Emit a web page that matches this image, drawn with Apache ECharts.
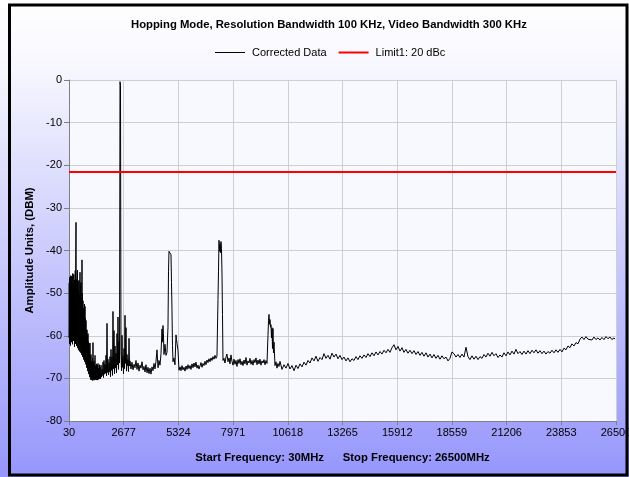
<!DOCTYPE html>
<html>
<head>
<meta charset="utf-8">
<title>Hopping Mode Spurious Emissions</title>
<script src="https://cdn.jsdelivr.net/npm/echarts@6/dist/echarts.min.js"></script>
<style>
  html, body { margin: 0; padding: 0; background: #ffffff; }
  #chart { width: 629px; height: 477px; }
</style>
</head>
<body>
<div id="chart"></div>
<script>
// Sweep settings (MHz)
const startFreq = 30;
const stopFreq = 26500;
const freqStep = 2647;

// Amplitude axis (dBm)
const ampMin = -80;
const ampMax = 0;
const ampStep = 10;

// Limit line level (dBm)
const limitLevel = -21.6;

const titleText = 'Hopping Mode, Resolution Bandwidth 100 KHz, Video Bandwidth 300 KHz';
const traceName = 'Corrected Data';
const limitName = 'Limit1: 20 dBc';
const yAxisTitle = 'Amplitude Units, (DBM)';
const xAxisTitle = 'Start Frequency: 30MHz      Stop Frequency: 26500MHz';

// Sweep trace as flat [MHz, dBm, MHz, dBm, ...] lists, split by band
const lowBandSweep = [
  30,-60.5, 42,-47.6, 54,-61.9, 66,-46.3, 78,-59.8, 90,-48.9, 103,-62.3, 115,-45.9,
  127,-60.7, 139,-47.1, 151,-61.5, 163,-46.0, 175,-59.2, 187,-48.4, 199,-62.0, 211,-45.4,
  224,-60.3, 236,-47.8, 248,-61.2, 260,-45.6, 272,-59.5, 284,-49.0, 296,-62.6, 308,-46.9,
  320,-60.8, 333,-44.7, 345,-61.9, 357,-41.0, 369,-33.4, 381,-55.2, 393,-62.4, 405,-46.8,
  417,-61.3, 429,-48.6, 441,-44.6, 454,-62.9, 466,-47.2, 478,-61.0, 490,-49.3, 502,-63.4,
  514,-47.0, 526,-61.8, 538,-50.5, 550,-63.7, 562,-45.1, 575,-62.2, 586,-48.3, 599,-64.0,
  611,-47.5, 623,-63.1, 635,-51.2, 647,-64.5, 659,-42.2, 671,-63.6, 683,-50.1, 696,-65.0,
  707,-51.8, 720,-64.2, 732,-53.5, 744,-65.6, 756,-54.2, 768,-64.8, 780,-52.6, 792,-66.1,
  804,-53.1, 816,-65.4, 828,-56.0, 841,-66.7, 853,-56.4, 865,-65.9, 877,-58.8, 889,-67.5,
  901,-58.6, 913,-66.8, 925,-60.2, 937,-68.3, 949,-59.5, 962,-67.6, 974,-61.4, 986,-69.0,
  998,-61.8, 1010,-68.4, 1022,-63.0, 1034,-69.7, 1046,-61.7, 1058,-69.1, 1070,-64.8, 1083,-70.3,
  1095,-64.4, 1107,-69.8, 1119,-66.0, 1131,-70.4, 1143,-66.8, 1155,-69.5, 1167,-65.3, 1179,-70.5,
  1191,-61.6, 1204,-70.1, 1216,-66.4, 1228,-70.4, 1240,-65.9, 1252,-69.6, 1264,-67.2, 1276,-70.4,
  1288,-64.6, 1300,-70.0, 1312,-67.0, 1324,-70.3, 1337,-67.3, 1349,-69.7, 1361,-66.6, 1373,-70.4,
  1385,-67.8, 1397,-69.9, 1409,-66.9, 1421,-70.4, 1433,-66.5, 1446,-69.8, 1458,-67.6, 1470,-70.2,
  1482,-68.2, 1494,-69.5, 1506,-66.8, 1518,-70.1, 1530,-67.4, 1554,-70.1,
  1579,-66.9, 1603,-69.7, 1627,-67.9, 1651,-69.3, 1675,-66.2, 1700,-69.8, 1724,-65.8, 1748,-69.0,
  1772,-66.7, 1796,-68.8, 1821,-64.6, 1845,-69.4, 1869,-57.1, 1893,-68.6, 1917,-65.5, 1942,-69.2,
  1966,-66.3, 1990,-68.5, 2014,-64.9, 2038,-69.6, 2063,-63.2, 2087,-68.1, 2111,-65.0, 2135,-69.3,
  2159,-54.3, 2184,-67.7, 2208,-58.8, 2232,-68.9, 2256,-62.4, 2280,-67.5, 2305,-64.1, 2329,-68.7,
  2353,-59.5, 2377,-66.8, 2401,-55.6, 2426,-67.9, 2450,-61.3, 2474,-66.4, 2498,-0.4, 2522,-1.2,
  2546,-63.8, 2571,-68.2, 2595,-59.9, 2619,-67.4, 2643,-64.7, 2667,-68.9, 2692,-63.0, 2716,-67.7,
  2740,-55.2, 2764,-66.5, 2788,-58.1, 2813,-68.3, 2837,-64.4, 2861,-67.0, 2885,-65.6, 2909,-68.4,
  2934,-60.6, 2958,-67.1, 2982,-65.9
];

const midBandSweep = [
  3030,-67.8, 3079,-66.2, 3127,-68.0, 3176,-66.7, 3224,-67.5, 3272,-65.8, 3321,-67.9, 3369,-66.4,
  3418,-68.3, 3466,-66.9, 3514,-67.6, 3563,-66.1, 3611,-68.0, 3660,-67.2, 3708,-68.5, 3756,-66.8,
  3805,-68.7, 3853,-67.4, 3901,-68.9, 3950,-67.6, 3998,-69.0, 4047,-67.3, 4095,-68.2, 4143,-66.5,
  4192,-67.8, 4240,-66.0, 4288,-63.3, 4337,-67.5, 4385,-65.8, 4433,-66.9, 4482,-64.2, 4530,-58.4,
  4554,-61.5, 4578,-57.6, 4603,-60.3, 4627,-64.4, 4675,-62.0, 4724,-64.6, 4772,-63.9, 4820,-58.0,
  4845,-45.0, 4869,-40.2, 4893,-39.8, 4917,-40.6, 4941,-40.1, 4966,-41.0, 4990,-47.5, 5014,-54.0,
  5038,-62.3, 5063,-66.1, 5111,-65.2, 5159,-66.8, 5208,-59.8, 5232,-60.9, 5256,-61.2, 5305,-63.4,
  5353,-68.1, 5401,-67.3, 5450,-68.2, 5498,-67.0, 5546,-68.0, 5595,-67.4, 5643,-68.3, 5692,-67.1,
  5740,-67.9, 5788,-66.8, 5837,-67.7, 5885,-67.0, 5933,-67.9, 5982,-66.6, 6030,-67.5, 6079,-66.4,
  6127,-67.3, 6175,-66.2, 6224,-67.6, 6272,-66.9, 6320,-67.8, 6369,-67.1, 6417,-66.3, 6466,-67.4,
  6514,-66.5, 6562,-67.0, 6611,-66.0, 6659,-66.8, 6707,-65.7, 6756,-66.3, 6804,-65.4, 6853,-66.1,
  6901,-65.2, 6949,-65.8, 6998,-64.9, 7046,-65.5, 7095,-64.6, 7143,-65.3, 7191,-64.8, 7240,-51.5,
  7264,-45.0, 7288,-37.6, 7312,-40.2, 7337,-38.4, 7361,-40.5, 7385,-37.9, 7409,-39.6, 7434,-45.5,
  7458,-55.0, 7482,-65.8, 7530,-65.3, 7579,-66.4, 7627,-65.0, 7675,-64.3, 7724,-66.1, 7772,-65.2,
  7821,-66.6, 7869,-64.5, 7917,-66.0, 7966,-66.9, 8014,-65.5, 8063,-66.7, 8111,-65.8, 8159,-67.2,
  8208,-65.6, 8256,-66.5, 8305,-65.4, 8353,-66.8, 8401,-66.0, 8450,-67.0, 8498,-65.7, 8546,-66.6,
  8595,-65.1, 8643,-66.9, 8692,-65.9, 8740,-66.4, 8789,-65.3, 8837,-66.7, 8885,-65.8, 8934,-66.9,
  8982,-65.6, 9030,-66.3, 9079,-65.2, 9127,-66.8, 9176,-65.7, 9224,-66.6, 9272,-65.5, 9321,-66.9,
  9369,-65.9, 9418,-66.4, 9466,-65.6, 9514,-66.8, 9563,-65.8, 9611,-66.5, 9659,-60.0, 9684,-56.5,
  9708,-55.0, 9732,-57.3, 9756,-56.2, 9781,-58.0, 9805,-57.4, 9829,-60.5, 9853,-58.1, 9877,-63.0,
  9901,-58.3, 9926,-64.0, 9950,-61.5, 9998,-67.0, 10046,-66.1, 10095,-67.6, 10143,-66.5, 10191,-67.2,
  10240,-66.0
];

const highBandSweep = [
  10337,-67.9, 10434,-66.8, 10531,-67.6, 10627,-66.5, 10724,-67.8, 10821,-67.0, 10918,-68.2, 11015,-66.9,
  11111,-67.7, 11208,-66.6, 11305,-67.3, 11402,-66.2, 11498,-66.9, 11595,-65.8, 11692,-66.4, 11789,-65.2,
  11886,-65.9, 11982,-64.8, 12079,-66.0, 12176,-65.1, 12273,-65.6, 12369,-64.2, 12466,-65.3, 12563,-64.6,
  12660,-65.5, 12757,-64.1, 12853,-65.0, 12950,-64.3, 13047,-65.4, 13144,-64.6, 13240,-65.6, 13337,-65.0,
  13434,-65.9, 13531,-65.2, 13628,-66.1, 13724,-65.4, 13821,-65.8, 13918,-64.9, 14015,-65.6, 14111,-64.7,
  14208,-65.3, 14305,-64.5, 14402,-65.1, 14499,-64.2, 14595,-64.9, 14692,-64.0, 14789,-64.7, 14886,-63.8,
  14982,-64.5, 15079,-63.7, 15176,-64.3, 15273,-63.4, 15370,-64.0, 15466,-63.2, 15563,-63.9, 15660,-62.8,
  15757,-62.1, 15853,-63.3, 15950,-62.5, 16047,-63.6, 16144,-62.8, 16240,-63.9, 16337,-63.2, 16434,-64.1,
  16531,-63.4, 16628,-64.2, 16724,-63.5, 16821,-64.4, 16918,-63.7, 17015,-64.6, 17111,-63.9, 17208,-64.8,
  17305,-64.0, 17402,-65.0, 17499,-64.3, 17595,-65.2, 17692,-64.4, 17789,-65.3, 17886,-64.6, 17982,-65.5,
  18079,-64.7, 18176,-65.4, 18273,-65.0, 18370,-65.9, 18466,-65.3, 18563,-63.8, 18660,-64.2, 18757,-65.0,
  18853,-64.4, 18950,-65.1, 19047,-64.3, 19144,-65.0, 19240,-62.7, 19337,-64.9, 19434,-65.6, 19531,-64.7,
  19628,-65.5, 19724,-64.8, 19821,-65.6, 19918,-64.9, 20015,-65.3, 20111,-64.4, 20208,-65.0, 20305,-64.1,
  20402,-64.8, 20499,-63.9, 20595,-64.7, 20692,-64.2, 20789,-65.1, 20886,-64.5, 20982,-65.0, 21079,-64.0,
  21176,-64.7, 21273,-63.8, 21370,-64.5, 21466,-63.6, 21563,-64.3, 21660,-63.2, 21757,-64.2, 21853,-63.7,
  21950,-64.4, 22047,-63.6, 22144,-64.3, 22240,-63.5, 22337,-64.2, 22434,-63.4, 22531,-64.0, 22628,-63.3,
  22724,-64.1, 22821,-63.5, 22918,-64.2, 23015,-63.6, 23111,-64.3, 23208,-63.7, 23305,-64.1, 23402,-63.4,
  23499,-64.0, 23595,-63.3, 23692,-63.9, 23789,-63.2, 23886,-63.8, 23982,-62.9, 24079,-63.3, 24176,-62.4,
  24273,-62.8, 24370,-61.9, 24466,-62.4, 24563,-61.6, 24660,-61.9, 24757,-60.8, 24853,-60.3, 24950,-60.9,
  25047,-60.2, 25144,-60.8, 25240,-60.4, 25337,-61.0, 25434,-60.3, 25531,-60.9, 25628,-60.5, 25724,-61.0,
  25821,-60.4, 25918,-60.9, 26015,-60.2, 26111,-60.7, 26208,-60.3, 26305,-60.9, 26402,-60.5, 26450,-60.8
];

// The frequency axis runs from the start frequency, so points are placed as offsets from it
function toPoints(flat) {
  const pts = [];
  for (let i = 0; i < flat.length; i += 2) {
    pts.push([flat[i] - startFreq, flat[i + 1]]);
  }
  return pts;
}

const tracePoints = [].concat(
  toPoints(lowBandSweep),
  toPoints(midBandSweep),
  toPoints(highBandSweep)
);
const limitPoints = [[0, limitLevel], [stopFreq - startFreq, limitLevel]];

const chart = echarts.init(document.getElementById('chart'), null, { renderer: 'canvas' });
const FONT = '"Liberation Sans", Arial, sans-serif';

// Legend swatches: thin black bar for the trace, thicker red bar for the limit
const thinBarIcon = 'path://M0,0 M0,0.5 L30,0.5 L30,1.5 L0,1.5 Z M30,2';
const thickBarIcon = 'path://M0,0 L30,0 L30,2 L0,2 Z';

chart.setOption({
  animation: false,
  textStyle: { fontFamily: FONT },
  graphic: [
    {
      type: 'rect',
      z: -10,
      silent: true,
      shape: { x: 0, y: 0, width: 629, height: 477 },
      style: {
        fill: new echarts.graphic.LinearGradient(0, 0, 0, 1, [
          { offset: 0, color: '#ffffff' },
          { offset: 0.14, color: '#f7f7fe' },
          { offset: 1, color: '#9696fc' }
        ])
      }
    },
    {
      type: 'rect',
      z: 100,
      silent: true,
      shape: { x: 9.5, y: 5, width: 617.5, height: 470 },
      style: { fill: null, stroke: '#000000', lineWidth: 3 }
    }
  ],
  title: {
    text: titleText,
    left: 131,
    top: 19,
    padding: 0,
    textStyle: { fontFamily: FONT, fontSize: 11.3, fontWeight: 'bold', color: '#000' }
  },
  legend: {
    top: 47,
    left: 215,
    padding: 0,
    itemWidth: 30,
    itemHeight: 2,
    itemGap: 12,
    textStyle: { fontFamily: FONT, fontSize: 11, color: '#000', padding: [0, 0, 0, 2] },
    data: [
      { name: traceName, icon: thinBarIcon, itemStyle: { color: '#000000', borderWidth: 0 } },
      { name: limitName, icon: thickBarIcon, itemStyle: { color: '#ff0000', borderWidth: 0 } }
    ]
  },
  grid: {
    left: 69,
    right: 13,
    top: 80,
    bottom: 56,
    outerBoundsMode: 'none',
    containLabel: false,
    show: true,
    backgroundColor: '#f8f8ff',
    borderWidth: 0
  },
  xAxis: {
    type: 'value',
    min: 0,
    max: stopFreq - startFreq,
    interval: freqStep,
    name: xAxisTitle,
    nameLocation: 'middle',
    nameGap: 31,
    nameTextStyle: { fontFamily: FONT, fontSize: 11.3, fontWeight: 'bold', color: '#000' },
    axisLine: { onZero: false, lineStyle: { color: '#808080', width: 1 } },
    axisTick: { show: true, length: 4, lineStyle: { color: '#808080' } },
    axisLabel: {
      color: '#000',
      fontSize: 11,
      fontFamily: FONT,
      margin: 6,
      showMinLabel: true,
      showMaxLabel: true,
      hideOverlap: false,
      formatter: function (v) { return String(v + startFreq); }
    },
    splitLine: { show: true, lineStyle: { color: '#cfcfcf', width: 1 } }
  },
  yAxis: {
    type: 'value',
    min: ampMin,
    max: ampMax,
    interval: ampStep,
    name: yAxisTitle,
    nameLocation: 'middle',
    nameRotate: 90,
    nameGap: 34,
    nameTextStyle: { fontFamily: FONT, fontSize: 11.3, fontWeight: 'bold', color: '#000' },
    axisLine: { show: true, lineStyle: { color: '#808080', width: 1 } },
    axisTick: { show: true, length: 5, lineStyle: { color: '#808080' } },
    axisLabel: { color: '#000', fontSize: 11, fontFamily: FONT, margin: 7 },
    splitLine: { show: true, lineStyle: { color: '#cfcfcf', width: 1 } }
  },
  series: [
    {
      name: traceName,
      type: 'line',
      data: tracePoints,
      symbol: 'none',
      showSymbol: false,
      sampling: null,
      lineStyle: { color: '#000000', width: 1 },
      itemStyle: { color: '#000000' },
      z: 2
    },
    {
      name: limitName,
      type: 'line',
      data: limitPoints,
      symbol: 'none',
      showSymbol: false,
      lineStyle: { color: '#ff0000', width: 2 },
      itemStyle: { color: '#ff0000' },
      z: 3
    }
  ]
});
</script>
</body>
</html>
